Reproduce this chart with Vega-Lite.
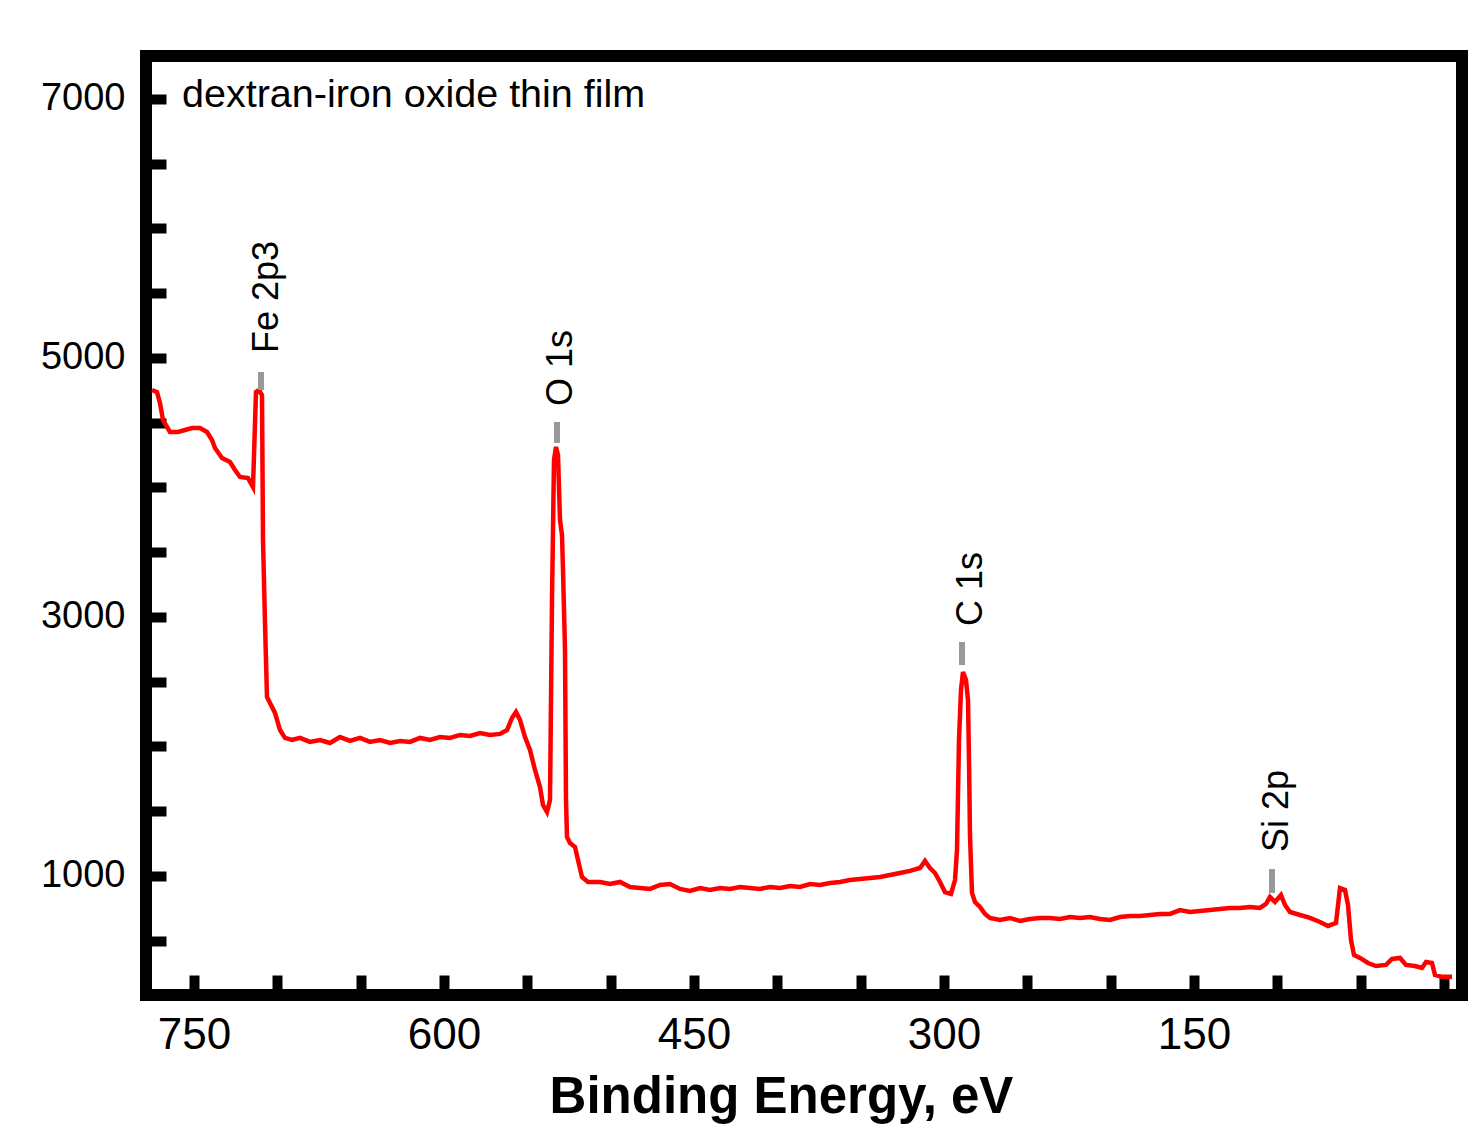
{
  "$schema": "https://vega.github.io/schema/vega-lite/v6.json",
  "width": 1316,
  "height": 939,
  "autosize": {"type": "none"},
  "padding": {"left": 146, "top": 56, "right": 7, "bottom": 129},
  "background": "white",
  "config": {
    "view": {"stroke": "black", "strokeWidth": 12},
    "font": "Liberation Sans"
  },
  "datasets": {
    "spectrum": [
      {"E": 775.2, "I": 4753}, {"E": 772.2, "I": 4737}, {"E": 770.4, "I": 4652}, {"E": 768.6, "I": 4521},
      {"E": 764.4, "I": 4429}, {"E": 759.6, "I": 4429}, {"E": 755.4, "I": 4444}, {"E": 751.2, "I": 4459},
      {"E": 746.4, "I": 4459}, {"E": 742.2, "I": 4429}, {"E": 739.2, "I": 4367}, {"E": 737.4, "I": 4305},
      {"E": 733.2, "I": 4228}, {"E": 728.4, "I": 4197}, {"E": 725.4, "I": 4135}, {"E": 722.4, "I": 4081},
      {"E": 717.6, "I": 4073}, {"E": 714.6, "I": 4004}, {"E": 712.8, "I": 4737}, {"E": 711.0, "I": 4753},
      {"E": 709.2, "I": 4714}, {"E": 708.6, "I": 3595}, {"E": 707.4, "I": 2954}, {"E": 706.2, "I": 2382},
      {"E": 704.4, "I": 2336}, {"E": 701.4, "I": 2259}, {"E": 698.4, "I": 2127}, {"E": 695.4, "I": 2066},
      {"E": 691.2, "I": 2050}, {"E": 686.4, "I": 2066}, {"E": 680.4, "I": 2035}, {"E": 674.4, "I": 2050},
      {"E": 668.4, "I": 2027}, {"E": 662.4, "I": 2073}, {"E": 656.4, "I": 2043}, {"E": 650.4, "I": 2066},
      {"E": 644.4, "I": 2035}, {"E": 638.4, "I": 2050}, {"E": 632.4, "I": 2027}, {"E": 626.4, "I": 2043},
      {"E": 620.4, "I": 2035}, {"E": 614.4, "I": 2066}, {"E": 608.4, "I": 2050}, {"E": 602.4, "I": 2073},
      {"E": 596.4, "I": 2066}, {"E": 590.4, "I": 2089}, {"E": 584.4, "I": 2081}, {"E": 578.4, "I": 2104},
      {"E": 572.4, "I": 2089}, {"E": 566.4, "I": 2097}, {"E": 562.2, "I": 2127}, {"E": 559.2, "I": 2220},
      {"E": 556.8, "I": 2266}, {"E": 554.4, "I": 2205}, {"E": 551.4, "I": 2073}, {"E": 548.4, "I": 1973},
      {"E": 545.4, "I": 1819}, {"E": 542.4, "I": 1687}, {"E": 540.6, "I": 1548}, {"E": 538.2, "I": 1494},
      {"E": 536.4, "I": 1587}, {"E": 535.2, "I": 3131}, {"E": 534.0, "I": 4212}, {"E": 532.8, "I": 4313},
      {"E": 531.6, "I": 4251}, {"E": 530.4, "I": 3749}, {"E": 529.2, "I": 3633}, {"E": 528.6, "I": 3363},
      {"E": 527.4, "I": 2745}, {"E": 526.8, "I": 1587}, {"E": 526.2, "I": 1301}, {"E": 524.4, "I": 1255},
      {"E": 521.4, "I": 1224}, {"E": 519.6, "I": 1124}, {"E": 517.2, "I": 992}, {"E": 513.6, "I": 954},
      {"E": 506.4, "I": 954}, {"E": 500.4, "I": 938}, {"E": 494.4, "I": 954}, {"E": 488.4, "I": 915},
      {"E": 482.4, "I": 907}, {"E": 476.4, "I": 900}, {"E": 470.4, "I": 931}, {"E": 464.4, "I": 938},
      {"E": 458.4, "I": 900}, {"E": 452.4, "I": 884}, {"E": 446.4, "I": 907}, {"E": 440.4, "I": 892},
      {"E": 434.4, "I": 907}, {"E": 428.4, "I": 900}, {"E": 422.4, "I": 915}, {"E": 416.4, "I": 907},
      {"E": 410.4, "I": 900}, {"E": 404.4, "I": 915}, {"E": 398.4, "I": 907}, {"E": 392.4, "I": 923},
      {"E": 386.4, "I": 915}, {"E": 380.4, "I": 938}, {"E": 374.4, "I": 931}, {"E": 368.4, "I": 946},
      {"E": 362.4, "I": 954}, {"E": 356.4, "I": 969}, {"E": 350.4, "I": 977}, {"E": 344.4, "I": 985},
      {"E": 338.4, "I": 992}, {"E": 332.4, "I": 1008}, {"E": 326.4, "I": 1023}, {"E": 320.4, "I": 1039},
      {"E": 314.4, "I": 1062}, {"E": 311.4, "I": 1116}, {"E": 308.4, "I": 1062}, {"E": 305.4, "I": 1023},
      {"E": 302.4, "I": 954}, {"E": 299.4, "I": 876}, {"E": 295.8, "I": 861}, {"E": 293.4, "I": 969},
      {"E": 292.2, "I": 1201}, {"E": 291.0, "I": 2050}, {"E": 289.8, "I": 2436}, {"E": 288.6, "I": 2575},
      {"E": 286.8, "I": 2514}, {"E": 285.6, "I": 2359}, {"E": 285.0, "I": 1896}, {"E": 284.4, "I": 1309},
      {"E": 283.2, "I": 869}, {"E": 281.4, "I": 799}, {"E": 278.4, "I": 761}, {"E": 275.4, "I": 707},
      {"E": 272.4, "I": 676}, {"E": 266.4, "I": 660}, {"E": 260.4, "I": 676}, {"E": 254.4, "I": 653},
      {"E": 248.4, "I": 668}, {"E": 242.4, "I": 676}, {"E": 236.4, "I": 676}, {"E": 230.4, "I": 668},
      {"E": 224.4, "I": 683}, {"E": 218.4, "I": 676}, {"E": 212.4, "I": 683}, {"E": 206.4, "I": 668},
      {"E": 200.4, "I": 660}, {"E": 194.4, "I": 683}, {"E": 188.4, "I": 691}, {"E": 182.4, "I": 691},
      {"E": 176.4, "I": 699}, {"E": 170.4, "I": 707}, {"E": 164.4, "I": 707}, {"E": 158.4, "I": 737},
      {"E": 152.4, "I": 722}, {"E": 146.4, "I": 730}, {"E": 140.4, "I": 737}, {"E": 134.4, "I": 745},
      {"E": 128.4, "I": 753}, {"E": 122.4, "I": 753}, {"E": 116.4, "I": 761}, {"E": 110.4, "I": 753},
      {"E": 106.8, "I": 784}, {"E": 104.4, "I": 838}, {"E": 101.4, "I": 799}, {"E": 97.8, "I": 853},
      {"E": 95.4, "I": 776}, {"E": 92.4, "I": 722}, {"E": 86.4, "I": 699}, {"E": 80.4, "I": 676},
      {"E": 74.4, "I": 645}, {"E": 69.6, "I": 614}, {"E": 64.8, "I": 637}, {"E": 62.4, "I": 907},
      {"E": 59.4, "I": 892}, {"E": 57.6, "I": 776}, {"E": 55.8, "I": 506}, {"E": 54.0, "I": 390},
      {"E": 50.4, "I": 367}, {"E": 45.6, "I": 328}, {"E": 40.8, "I": 305}, {"E": 34.8, "I": 313},
      {"E": 31.2, "I": 359}, {"E": 26.4, "I": 367}, {"E": 22.8, "I": 313}, {"E": 17.4, "I": 305},
      {"E": 13.2, "I": 290}, {"E": 10.8, "I": 336}, {"E": 7.2, "I": 328}, {"E": 5.4, "I": 236},
      {"E": 1.2, "I": 221}, {"E": -4.8, "I": 221}
    ],
    "markers": [
      {"E": 709.8, "I": 4892, "I2": 4753},
      {"E": 532.2, "I": 4506, "I2": 4344},
      {"E": 289.2, "I": 2807, "I2": 2629},
      {"E": 103.2, "I": 1054, "I2": 869}
    ],
    "peaks": [
      {"label": "Fe 2p3", "E": 699.6, "I": 5039},
      {"label": "O 1s", "E": 523.2, "I": 4629},
      {"label": "C 1s", "E": 277.2, "I": 2931},
      {"label": "Si 2p", "E": 93.6, "I": 1185}
    ],
    "note": [
      {"label": "dextran-iron oxide thin film", "E": 757.2, "I": 6938}
    ]
  },
  "encoding": {
    "x": {
      "field": "E", "type": "quantitative",
      "scale": {"domain": [-10.8, 778.8], "reverse": true, "nice": false, "zero": false},
      "axis": {
        "values": [0, 50, 100, 150, 200, 250, 300, 350, 400, 450, 500, 550, 600, 650, 700, 750],
        "labelExpr": "indexof([750, 600, 450, 300, 150], datum.value) >= 0 ? datum.label : ''",
        "format": "d",
        "domain": false, "grid": false,
        "tickSize": -20, "tickWidth": 10, "tickColor": "black",
        "labelFontSize": 44, "labelFont": "Liberation Sans", "labelColor": "black",
        "labelPadding": 38, "labelBaseline": "top", "labelFlush": false, "labelOverlap": false,
        "title": "Binding Energy, eV",
        "titleFont": "Liberation Sans", "titleFontSize": 51, "titleFontWeight": "bold", "titleColor": "black",
        "titleX": 635, "titleY": 117, "titleAlign": "center", "titleBaseline": "alphabetic", "titleAngle": 0
      }
    },
    "y": {
      "field": "I", "type": "quantitative",
      "scale": {"domain": [81, 7332], "nice": false, "zero": false},
      "axis": {
        "values": [500, 1000, 1500, 2000, 2500, 3000, 3500, 4000, 4500, 5000, 5500, 6000, 6500, 7000],
        "labelExpr": "indexof([1000, 3000, 5000, 7000], datum.value) >= 0 ? datum.label : ''",
        "format": "d",
        "domain": false, "grid": false,
        "tickSize": -20, "tickWidth": 10, "tickColor": "black",
        "labelFontSize": 38, "labelFont": "Liberation Sans", "labelColor": "black",
        "labelPadding": 41, "labelBaseline": "middle", "labelFlush": false, "labelOverlap": false,
        "title": null
      }
    }
  },
  "layer": [
    {
      "data": {"name": "spectrum"},
      "mark": {"type": "line", "color": "#ff0000", "strokeWidth": 4.5}
    },
    {
      "data": {"name": "markers"},
      "mark": {"type": "rule", "color": "#999999", "strokeWidth": 6},
      "encoding": {"y2": {"field": "I2"}}
    },
    {
      "data": {"name": "peaks"},
      "mark": {"type": "text", "angle": 270, "align": "left", "baseline": "alphabetic", "fontSize": 36, "font": "Liberation Sans", "color": "black"},
      "encoding": {"text": {"field": "label"}}
    },
    {
      "data": {"name": "note"},
      "mark": {"type": "text", "align": "left", "baseline": "alphabetic", "fontSize": 39.5, "font": "Liberation Sans", "color": "black"},
      "encoding": {"text": {"field": "label"}}
    }
  ]
}
